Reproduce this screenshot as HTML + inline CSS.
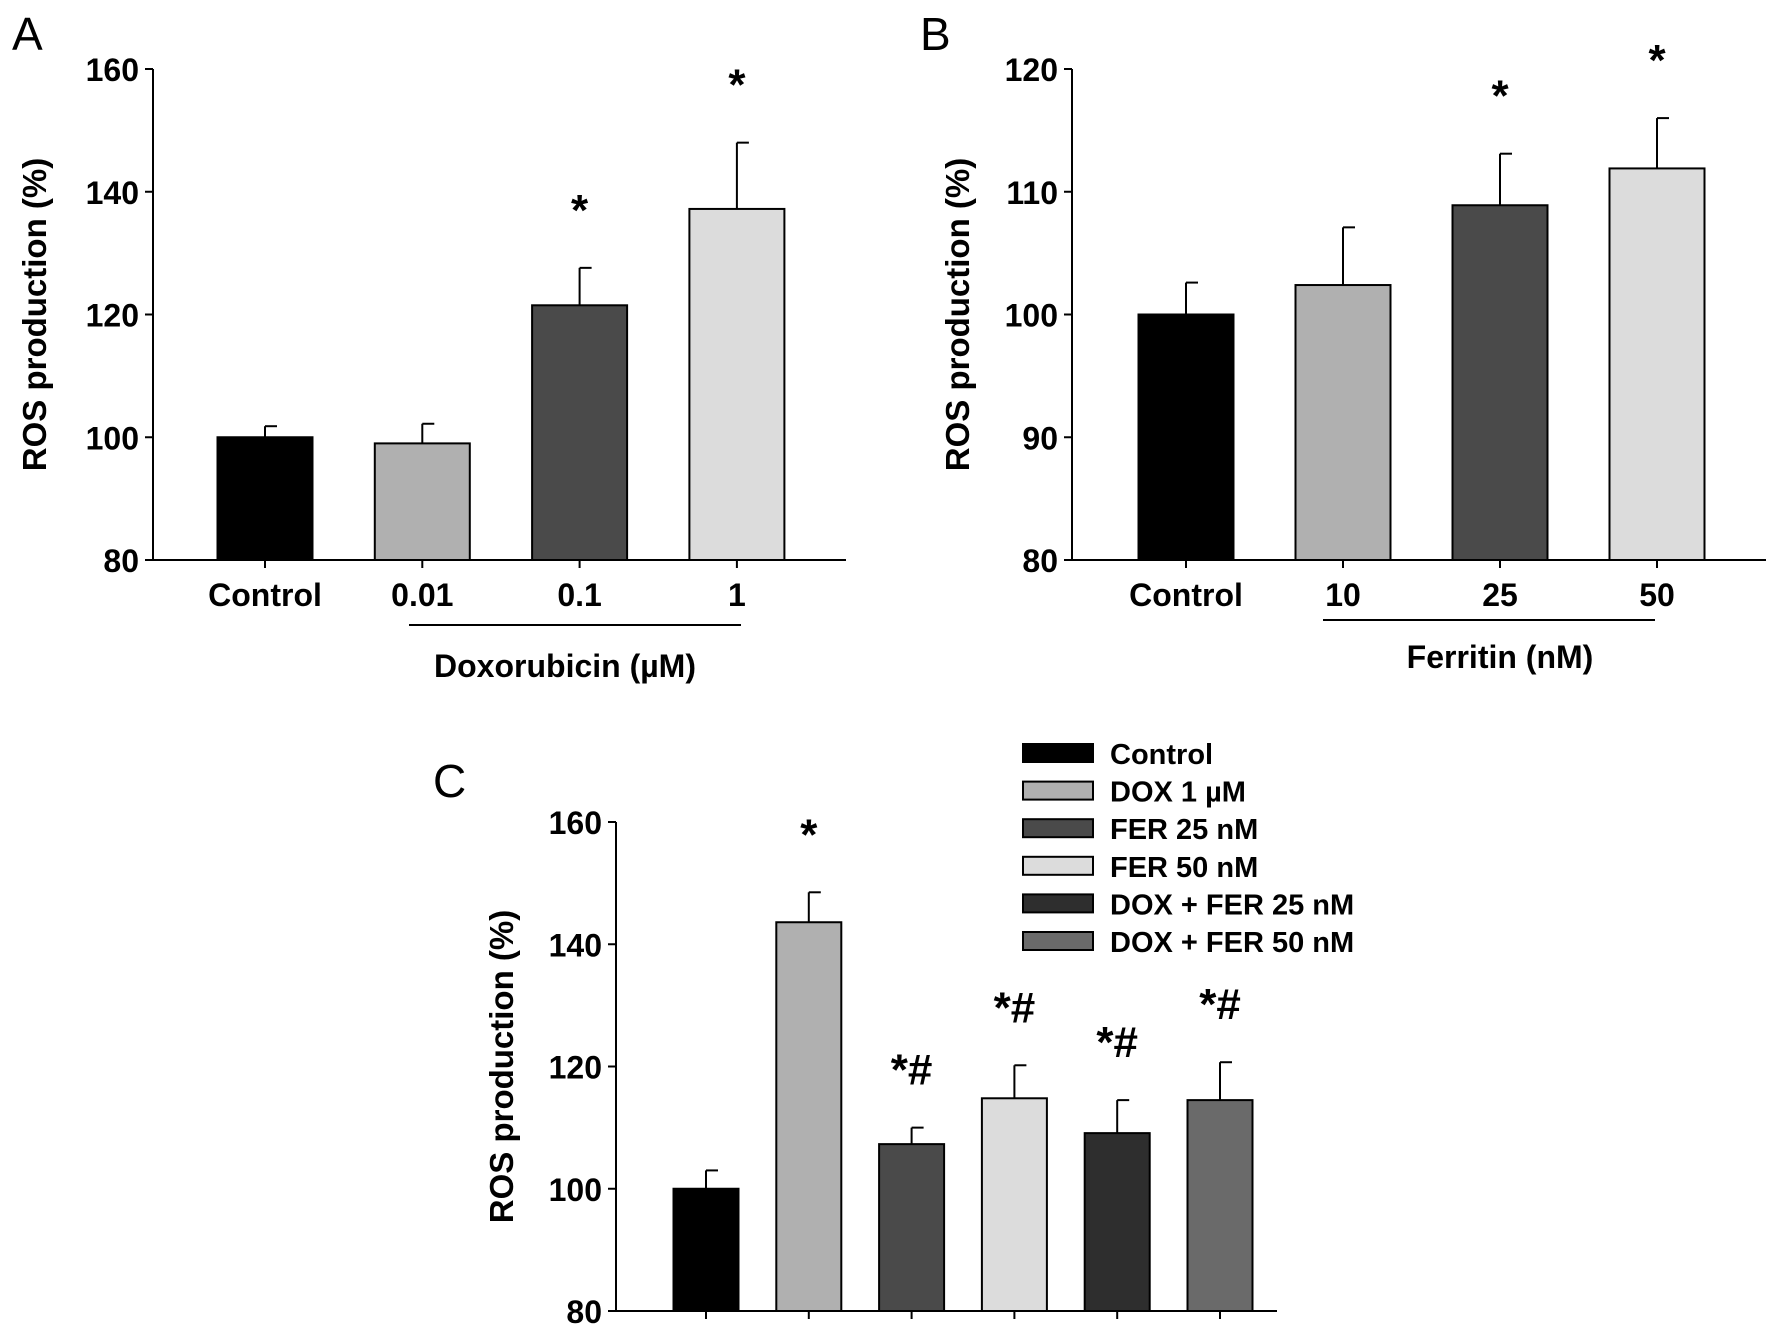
<!DOCTYPE html>
<html><head><meta charset="utf-8"><style>
html,body{margin:0;padding:0;background:#fff;}
svg text{font-family:"Liberation Sans",sans-serif;font-weight:bold;fill:#000;}
</style></head><body>
<svg id="fig" width="1772" height="1337" viewBox="0 0 1772 1337" xmlns="http://www.w3.org/2000/svg">
<text x="12" y="50" style="font-weight:normal;font-size:46px">A</text>
<text x="920" y="50" style="font-weight:normal;font-size:46px">B</text>
<text x="433" y="797" style="font-weight:normal;font-size:46px">C</text>
</svg>
<script>
const catsA=["Control","0.01","0.1","1"];
const valsA=[100,99,121.5,137.2];
const errA=[1.8,3.2,6.1,10.8];
const starsA=["","","*","*"];
const ticksA=[80,100,120,140,160];
const catsB=["Control","10","25","50"];
const valsB=[100,102.4,108.9,111.9];
const errB=[2.6,4.7,4.2,4.1];
const starsB=["","","*","*"];
const ticksB=[80,90,100,110,120];
const catsC=["Control","DOX 1 µM","FER 25 nM","FER 50 nM","DOX + FER 25 nM","DOX + FER 50 nM"];
const valsC=[100,143.6,107.3,114.8,109.1,114.5];
const errC=[3,4.9,2.7,5.4,5.4,6.2];
const starsC=["","*","*#","*#","*#","*#"];
const ticksC=[80,100,120,140,160];
const colA=["#000","#b0b0b0","#4a4a4a","#dcdcdc"];
const colC=["#000","#b0b0b0","#4a4a4a","#dcdcdc","#2e2e2e","#6a6a6a"];
const svg=document.getElementById('fig');
const NS="http://www.w3.org/2000/svg";
function mk(tag,at,txt){const e=document.createElementNS(NS,tag);for(const k in at)e.setAttribute(k,at[k]);if(txt!==undefined)e.textContent=txt;svg.appendChild(e);return e;}
function panel(p){
  const y=v=>p.y0+(v-p.ticks[0])/(p.ticks[p.ticks.length-1]-p.ticks[0])*(p.y1-p.y0);
  const x=i=>p.x0+i*p.step;
  let e=mk('line',{x1:p.ax,y1:y(p.ticks[p.ticks.length-1]),x2:p.ax,y2:p.y0,stroke:'#000','stroke-width':2});
  
  e=mk('line',{x1:p.ax,y1:p.y0,x2:p.axr,y2:p.y0,stroke:'#000','stroke-width':2});
  
  p.ticks.forEach(t=>{
    e=mk('line',{x1:p.ax-8,y1:y(t),x2:p.ax,y2:y(t),stroke:'#000','stroke-width':2});
    
    e=mk('text',{x:p.ax-14,y:y(t)+12,'text-anchor':'end','font-size':32},String(t));
    
  });
  p.vals.forEach((v,i)=>{
    const cx=x(i);
    e=mk('line',{x1:cx,y1:p.y0,x2:cx,y2:p.y0+8,stroke:'#000','stroke-width':2});
    
    const top=y(v+p.err[i]);
    e=mk('line',{x1:cx,y1:y(v),x2:cx,y2:top,stroke:'#000','stroke-width':2});
    
    e=mk('line',{x1:cx,y1:top,x2:cx+12,y2:top,stroke:'#000','stroke-width':2});
    
    e=mk('rect',{x:cx-p.bw/2,y:y(v),width:p.bw,height:p.y0-y(v),fill:p.cols[i],stroke:'#000','stroke-width':2});
    
    if(p.stars[i]){
      e=mk('text',{x:cx,y:top-43,'text-anchor':'middle','font-size':44},p.stars[i]);
      
    }
    if(p.labels){
      e=mk('text',{x:cx,y:p.y0+46,'text-anchor':'middle','font-size':32},p.cats[i]);
      
    }
  });
  e=mk('text',{x:0,y:0,'text-anchor':'middle','font-size':33,transform:`translate(${p.ytx},${(p.y0+y(p.ticks[p.ticks.length-1]))/2}) rotate(-90)`},'ROS production (%)');
  
  return {x,y};
}
const A=panel({id:'a',ax:153,axr:846,y0:560,y1:69,x0:265,step:157.3,bw:95,ticks:ticksA,vals:valsA,err:errA,stars:starsA,cats:catsA,cols:colA,labels:true,ytx:46});
const B=panel({id:'b',ax:1072,axr:1766,y0:560,y1:69,x0:1186,step:157,bw:95,ticks:ticksB,vals:valsB,err:errB,stars:starsB,cats:catsB,cols:colA,labels:true,ytx:969});
const C=panel({id:'c',ax:616,axr:1277,y0:1311,y1:822,x0:706,step:102.8,bw:65,ticks:ticksC,vals:valsC,err:errC,stars:starsC,cats:catsC,cols:colC,labels:false,ytx:513});
let e;
e=mk('line',{x1:409,y1:625,x2:741,y2:625,stroke:'#000','stroke-width':2});

e=mk('text',{x:565,y:677,'text-anchor':'middle','font-size':32},'Doxorubicin (µM)');

e=mk('line',{x1:1323,y1:620,x2:1655,y2:620,stroke:'#000','stroke-width':2});

e=mk('text',{x:1500,y:668,'text-anchor':'middle','font-size':32},'Ferritin (nM)');

catsC.forEach((c,i)=>{
  const yy=753+i*37.6;
  e=mk('rect',{x:1023,y:yy-9,width:70,height:18,fill:colC[i],stroke:'#000','stroke-width':2});
  
  e=mk('text',{x:1110,y:yy+11,'font-size':29},c);
  
});
</script>
</body></html>
